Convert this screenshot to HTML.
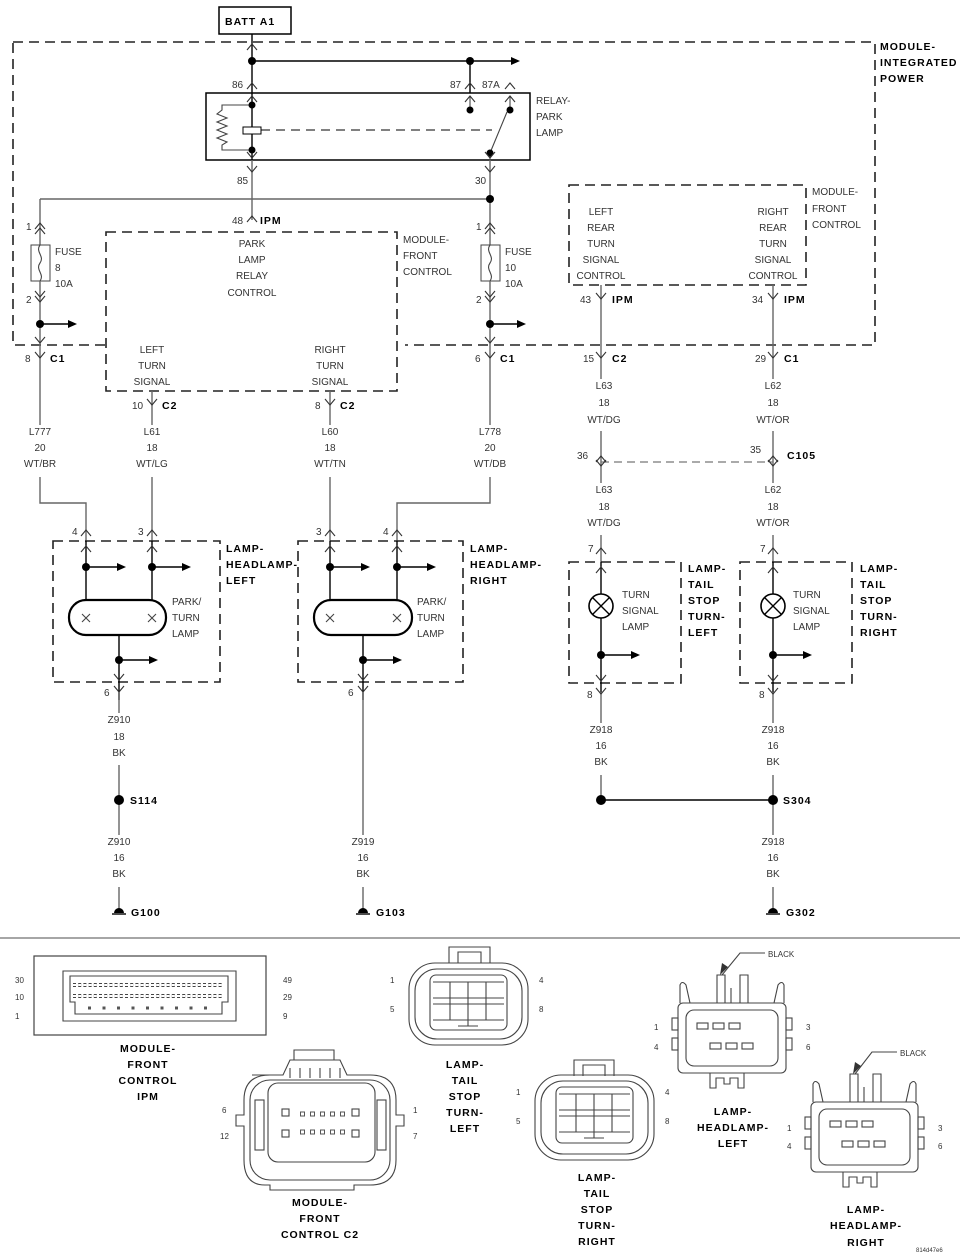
<!DOCTYPE html>
<html><head><meta charset="utf-8"><style>
html,body{margin:0;padding:0;background:#fff}
svg{display:block}
text{font-family:"Liberation Sans Narrow","Liberation Sans",sans-serif;font-size:10px;fill:#333}
.b{font-weight:bold;fill:#000;font-size:10.5px;letter-spacing:1px}
.s{font-size:8px}
.w{stroke:#666;stroke-width:1.4;fill:none}
.k{stroke:#000;stroke-width:1.4;fill:none}
.d{stroke:#222;stroke-width:1.6;fill:none;stroke-dasharray:10,6}
.c{stroke:#444;stroke-width:1.1;fill:none}
</style></head><body>
<svg width="960" height="1257" viewBox="0 0 960 1257">
<defs>
<path id="up" d="M-5,6 L0,0 L5,6" stroke="#333" stroke-width="1.1" fill="none"/>
<path id="dn" d="M-5,-6 L0,0 L5,-6" stroke="#333" stroke-width="1.1" fill="none"/>
<path id="ar" d="M0,0 L-9,-4 L-9,4 Z" fill="#000"/>
</defs>

<!-- BATT -->
<rect x="219" y="7" width="72" height="27" fill="#fff" stroke="#000" stroke-width="1.5"/>
<text x="225" y="25" class="b">BATT A1</text>

<!-- IPM dashed -->
<path class="d" d="M13,42 L875,42 L875,345 L405,345 M105,345 L13,345 L13,42"/>
<text x="880" y="50" class="b">MODULE-</text>
<text x="880" y="66" class="b">INTEGRATED</text>
<text x="880" y="82" class="b">POWER</text>

<!-- top feed -->
<path class="k" d="M252,34 L252,93 M252,61 L518,61 M470,61 L470,93"/>
<circle cx="252" cy="61" r="4"/><circle cx="470" cy="61" r="4"/>
<use href="#ar" x="520" y="61"/>
<use href="#up" x="252" y="44"/>
<use href="#up" x="252" y="83"/><use href="#up" x="470" y="83"/><use href="#up" x="510" y="83"/>
<text x="232" y="88">86</text><text x="450" y="88">87</text><text x="482" y="88">87A</text>

<!-- relay -->
<rect x="206" y="93" width="324" height="67" fill="none" stroke="#000" stroke-width="1.5"/>
<text x="536" y="104">RELAY-</text><text x="536" y="120">PARK</text><text x="536" y="136">LAMP</text>
<path class="k" d="M252,93 L252,160"/>
<path class="c" d="M252,105 L222,105 L222,110 L217,114 L227,118 L217,122 L227,126 L217,130 L227,134 L217,138 L227,142 L222,145 L222,150 L252,150"/>
<rect x="243" y="127" width="18" height="7" fill="#fff" stroke="#000" stroke-width="1"/>
<path d="M261,130 L492,130" stroke="#000" stroke-width="1" stroke-dasharray="9,6"/>
<circle cx="252" cy="105" r="3.5"/><circle cx="252" cy="150" r="3.5"/>
<path class="c" d="M470,96 L470,110 M510,96 L510,110 M490,153 L507,112 M490,153 L490,160"/>
<circle cx="470" cy="110" r="3.5"/><circle cx="510" cy="110" r="3.5"/><circle cx="490" cy="153" r="3.5"/>
<use href="#up" x="252" y="96"/><use href="#up" x="470" y="96"/><use href="#up" x="510" y="96"/>
<use href="#dn" x="252" y="158"/><use href="#dn" x="490" y="158"/>

<!-- 85 / 30 -->
<path class="w" d="M252,160 L252,220 M490,160 L490,245 M40,199 L490,199 M40,199 L40,245"/>
<circle cx="490" cy="199" r="4"/>
<use href="#dn" x="252" y="172"/><use href="#dn" x="490" y="172"/>
<text x="237" y="184">85</text><text x="475" y="184">30</text>
<use href="#up" x="252" y="216"/>
<text x="232" y="224">48</text><text x="260" y="224" class="b">IPM</text>

<!-- fuses -->
<g>
<use href="#up" x="40" y="223"/><use href="#up" x="40" y="228"/>
<text x="26" y="230">1</text>
<rect x="31" y="245" width="19" height="36" fill="#fff" stroke="#444"/>
<path class="c" d="M40,245 C35,252 45,256 40,263 C35,270 45,274 40,281"/>
<text x="55" y="255">FUSE</text><text x="55" y="271">8</text><text x="55" y="287">10A</text>
<path class="w" d="M40,281 L40,345"/>
<use href="#dn" x="40" y="297"/><use href="#dn" x="40" y="302"/>
<text x="26" y="303">2</text>
<circle cx="40" cy="324" r="4"/><path class="k" d="M40,324 L70,324"/><use href="#ar" x="77" y="324"/>
<use href="#dn" x="40" y="343"/>
</g>
<g>
<use href="#up" x="490" y="223"/><use href="#up" x="490" y="228"/>
<text x="476" y="230">1</text>
<rect x="481" y="245" width="19" height="36" fill="#fff" stroke="#444"/>
<path class="c" d="M490,245 C485,252 495,256 490,263 C485,270 495,274 490,281"/>
<text x="505" y="255">FUSE</text><text x="505" y="271">10</text><text x="505" y="287">10A</text>
<path class="w" d="M490,281 L490,345"/>
<use href="#dn" x="490" y="297"/><use href="#dn" x="490" y="302"/>
<text x="476" y="303">2</text>
<circle cx="490" cy="324" r="4"/><path class="k" d="M490,324 L519,324"/><use href="#ar" x="526" y="324"/>
<use href="#dn" x="490" y="343"/>
</g>

<!-- MFC box left -->
<path class="d" d="M106,232 L397,232 L397,391 L106,391 Z"/>
<text x="252" y="247" text-anchor="middle">PARK</text>
<text x="252" y="263" text-anchor="middle">LAMP</text>
<text x="252" y="279" text-anchor="middle">RELAY</text>
<text x="252" y="296" text-anchor="middle">CONTROL</text>
<text x="403" y="243">MODULE-</text><text x="403" y="259">FRONT</text><text x="403" y="275">CONTROL</text>
<text x="152" y="353" text-anchor="middle">LEFT</text><text x="152" y="369" text-anchor="middle">TURN</text><text x="152" y="385" text-anchor="middle">SIGNAL</text>
<text x="330" y="353" text-anchor="middle">RIGHT</text><text x="330" y="369" text-anchor="middle">TURN</text><text x="330" y="385" text-anchor="middle">SIGNAL</text>

<!-- MFC box right -->
<path class="d" d="M569,185 L806,185 L806,285 L569,285 Z"/>
<text x="812" y="195">MODULE-</text><text x="812" y="212">FRONT</text><text x="812" y="228">CONTROL</text>
<g text-anchor="middle">
<text x="601" y="215">LEFT</text><text x="601" y="231">REAR</text><text x="601" y="247">TURN</text><text x="601" y="263">SIGNAL</text><text x="601" y="279">CONTROL</text>
<text x="773" y="215">RIGHT</text><text x="773" y="231">REAR</text><text x="773" y="247">TURN</text><text x="773" y="263">SIGNAL</text><text x="773" y="279">CONTROL</text>
</g>

<!-- wires left -->
<path class="w" d="M40,345 L40,503 L86,503 L86,541 M152,391 L152,541 M330,391 L330,541 M490,345 L490,503 L397,503 L397,541"/>
<use href="#dn" x="40" y="358"/><text x="25" y="362">8</text><text x="50" y="362" class="b">C1</text>
<use href="#dn" x="490" y="358"/><text x="475" y="362">6</text><text x="500" y="362" class="b">C1</text>
<use href="#dn" x="152" y="405"/><text x="132" y="409">10</text><text x="162" y="409" class="b">C2</text>
<use href="#dn" x="330" y="405"/><text x="315" y="409">8</text><text x="340" y="409" class="b">C2</text>
<g text-anchor="middle">
<rect x="24" y="425" width="32" height="52" fill="#fff"/>
<text x="40" y="435">L777</text><text x="40" y="451">20</text><text x="40" y="467">WT/BR</text>
<rect x="136" y="425" width="32" height="52" fill="#fff"/>
<text x="152" y="435">L61</text><text x="152" y="451">18</text><text x="152" y="467">WT/LG</text>
<rect x="314" y="425" width="32" height="52" fill="#fff"/>
<text x="330" y="435">L60</text><text x="330" y="451">18</text><text x="330" y="467">WT/TN</text>
<rect x="474" y="425" width="32" height="52" fill="#fff"/>
<text x="490" y="435">L778</text><text x="490" y="451">20</text><text x="490" y="467">WT/DB</text>
</g>
<use href="#up" x="86" y="530"/><text x="72" y="535">4</text>
<use href="#up" x="152" y="530"/><text x="138" y="535">3</text>
<use href="#up" x="330" y="530"/><text x="316" y="535">3</text>
<use href="#up" x="397" y="530"/><text x="383" y="535">4</text>

<!-- headlamp left -->
<path class="d" d="M53,541 L220,541 L220,682 L53,682 Z"/>
<text x="226" y="552" class="b">LAMP-</text><text x="226" y="568" class="b">HEADLAMP-</text><text x="226" y="584" class="b">LEFT</text>
<path class="k" d="M86,541 L86,600 M152,541 L152,600 M119,635 L119,700"/>
<use href="#up" x="86" y="546"/><use href="#up" x="152" y="546"/>
<circle cx="86" cy="567" r="4"/><path class="k" d="M86,567 L118,567"/><use href="#ar" x="126" y="567"/>
<circle cx="152" cy="567" r="4"/><path class="k" d="M152,567 L183,567"/><use href="#ar" x="191" y="567"/>
<rect x="69" y="600" width="97" height="35" rx="17" fill="#fff" stroke="#000" stroke-width="2.2"/>
<path class="c" d="M82,614 L90,622 M90,614 L82,622 M148,614 L156,622 M156,614 L148,622"/>
<text x="172" y="605">PARK/</text><text x="172" y="621">TURN</text><text x="172" y="637">LAMP</text>
<circle cx="119" cy="660" r="4"/><path class="k" d="M119,660 L150,660"/><use href="#ar" x="158" y="660"/>
<use href="#dn" x="119" y="680"/>
<use href="#dn" x="119" y="692"/><text x="104" y="696">6</text>

<!-- headlamp right -->
<path class="d" d="M298,541 L463,541 L463,682 L298,682 Z"/>
<text x="470" y="552" class="b">LAMP-</text><text x="470" y="568" class="b">HEADLAMP-</text><text x="470" y="584" class="b">RIGHT</text>
<path class="k" d="M330,541 L330,600 M397,541 L397,600 M363,635 L363,700"/>
<use href="#up" x="330" y="546"/><use href="#up" x="397" y="546"/>
<circle cx="330" cy="567" r="4"/><path class="k" d="M330,567 L362,567"/><use href="#ar" x="370" y="567"/>
<circle cx="397" cy="567" r="4"/><path class="k" d="M397,567 L428,567"/><use href="#ar" x="436" y="567"/>
<rect x="314" y="600" width="98" height="35" rx="17" fill="#fff" stroke="#000" stroke-width="2.2"/>
<path class="c" d="M326,614 L334,622 M334,614 L326,622 M393,614 L401,622 M401,614 L393,622"/>
<text x="417" y="605">PARK/</text><text x="417" y="621">TURN</text><text x="417" y="637">LAMP</text>
<circle cx="363" cy="660" r="4"/><path class="k" d="M363,660 L394,660"/><use href="#ar" x="402" y="660"/>
<use href="#dn" x="363" y="680"/>
<use href="#dn" x="363" y="692"/><text x="348" y="696">6</text>

<!-- left grounds -->
<path class="w" d="M119,692 L119,912 M363,692 L363,912"/>
<g text-anchor="middle">
<rect x="103" y="713" width="32" height="52" fill="#fff"/>
<text x="119" y="723">Z910</text><text x="119" y="740">18</text><text x="119" y="756">BK</text>
<rect x="103" y="835" width="32" height="52" fill="#fff"/>
<text x="119" y="845">Z910</text><text x="119" y="861">16</text><text x="119" y="877">BK</text>
<rect x="347" y="835" width="32" height="52" fill="#fff"/>
<text x="363" y="845">Z919</text><text x="363" y="861">16</text><text x="363" y="877">BK</text>
</g>
<circle cx="119" cy="800" r="5"/><text x="130" y="804" class="b">S114</text>
<path d="M114,913 A5,5 0 0 1 124,913 Z" fill="#000"/><path class="k" d="M112,914 L126,914"/><text x="131" y="916" class="b">G100</text>
<path d="M358,913 A5,5 0 0 1 368,913 Z" fill="#000"/><path class="k" d="M356,914 L370,914"/><text x="376" y="916" class="b">G103</text>

<!-- right side wires -->
<path class="w" d="M601,285 L601,562 M773,285 L773,562"/>
<use href="#dn" x="601" y="299"/><text x="580" y="303">43</text><text x="612" y="303" class="b">IPM</text>
<use href="#dn" x="773" y="299"/><text x="752" y="303">34</text><text x="784" y="303" class="b">IPM</text>
<use href="#dn" x="601" y="358"/><text x="583" y="362">15</text><text x="612" y="362" class="b">C2</text>
<use href="#dn" x="773" y="358"/><text x="755" y="362">29</text><text x="784" y="362" class="b">C1</text>
<g text-anchor="middle">
<rect x="585" y="379" width="32" height="52" fill="#fff"/>
<text x="604" y="389">L63</text><text x="604" y="406">18</text><text x="604" y="423">WT/DG</text>
<rect x="757" y="379" width="32" height="52" fill="#fff"/>
<text x="773" y="389">L62</text><text x="773" y="406">18</text><text x="773" y="423">WT/OR</text>
<rect x="585" y="483" width="32" height="52" fill="#fff"/>
<text x="604" y="493">L63</text><text x="604" y="510">18</text><text x="604" y="526">WT/DG</text>
<rect x="757" y="483" width="32" height="52" fill="#fff"/>
<text x="773" y="493">L62</text><text x="773" y="510">18</text><text x="773" y="526">WT/OR</text>
</g>
<path d="M601,462 L773,462" stroke="#777" stroke-width="1.2" stroke-dasharray="8,5"/>
<use href="#up" x="601" y="456"/><use href="#dn" x="601" y="466"/>
<use href="#up" x="773" y="456"/><use href="#dn" x="773" y="466"/>
<text x="577" y="459">36</text><text x="750" y="453">35</text><text x="787" y="459" class="b">C105</text>
<use href="#up" x="601" y="548"/><text x="588" y="552">7</text>
<use href="#up" x="773" y="548"/><text x="760" y="552">7</text>

<!-- tail lamps -->
<g>
<path class="d" d="M569,562 L681,562 L681,683 L569,683 Z"/>
<path class="k" d="M601,562 L601,594 M601,618 L601,692"/>
<use href="#up" x="601" y="567"/>
<circle cx="601" cy="606" r="12" fill="#fff" stroke="#000" stroke-width="1.6"/>
<path class="k" d="M593,598 L609,614 M609,598 L593,614"/>
<text x="622" y="598">TURN</text><text x="622" y="614">SIGNAL</text><text x="622" y="630">LAMP</text>
<circle cx="601" cy="655" r="4"/><path class="k" d="M601,655 L632,655"/><use href="#ar" x="640" y="655"/>
<use href="#dn" x="601" y="681"/>
<text x="688" y="572" class="b">LAMP-</text><text x="688" y="588" class="b">TAIL</text><text x="688" y="604" class="b">STOP</text><text x="688" y="620" class="b">TURN-</text><text x="688" y="636" class="b">LEFT</text>
</g>
<g>
<path class="d" d="M740,562 L852,562 L852,683 L740,683 Z"/>
<path class="k" d="M773,562 L773,594 M773,618 L773,692"/>
<use href="#up" x="773" y="567"/>
<circle cx="773" cy="606" r="12" fill="#fff" stroke="#000" stroke-width="1.6"/>
<path class="k" d="M765,598 L781,614 M781,598 L765,614"/>
<text x="793" y="598">TURN</text><text x="793" y="614">SIGNAL</text><text x="793" y="630">LAMP</text>
<circle cx="773" cy="655" r="4"/><path class="k" d="M773,655 L804,655"/><use href="#ar" x="812" y="655"/>
<use href="#dn" x="773" y="681"/>
<text x="860" y="572" class="b">LAMP-</text><text x="860" y="588" class="b">TAIL</text><text x="860" y="604" class="b">STOP</text><text x="860" y="620" class="b">TURN-</text><text x="860" y="636" class="b">RIGHT</text>
</g>
<path class="w" d="M601,692 L601,800 M773,692 L773,912"/>
<path class="k" d="M601,800 L773,800"/>
<use href="#dn" x="601" y="694"/><text x="587" y="698">8</text>
<use href="#dn" x="773" y="694"/><text x="759" y="698">8</text>
<g text-anchor="middle">
<rect x="585" y="723" width="32" height="52" fill="#fff"/>
<text x="601" y="733">Z918</text><text x="601" y="749">16</text><text x="601" y="765">BK</text>
<rect x="757" y="723" width="32" height="52" fill="#fff"/>
<text x="773" y="733">Z918</text><text x="773" y="749">16</text><text x="773" y="765">BK</text>
<rect x="757" y="835" width="32" height="52" fill="#fff"/>
<text x="773" y="845">Z918</text><text x="773" y="861">16</text><text x="773" y="877">BK</text>
</g>
<circle cx="601" cy="800" r="5"/><circle cx="773" cy="800" r="5"/><text x="783" y="804" class="b">S304</text>
<path d="M768,913 A5,5 0 0 1 778,913 Z" fill="#000"/><path class="k" d="M766,914 L780,914"/><text x="786" y="916" class="b">G302</text>

<!-- separator -->
<path d="M0,938 L960,938" stroke="#888" stroke-width="1.5"/>

<!-- MFC IPM connector -->
<rect x="34" y="956" width="232" height="79" fill="none" stroke="#444" stroke-width="1.2"/>
<path class="c" d="M63,971 L236,971 L236,1021 L63,1021 Z M70,976 L228,976 L228,1002 L222,1002 L222,1014 L75,1014 L75,1002 L70,1002 Z"/>
<g fill="none" stroke="#444" stroke-width="0.8">
<path d="M73,985 h150" stroke-dasharray="3,2.2" stroke-width="4"/>
<path d="M73,996 h150" stroke-dasharray="3,2.2" stroke-width="4"/>
</g>
<path d="M73,985 h150 M73,996 h150" stroke="#fff" stroke-width="2" stroke-dasharray="3,2.2"/>
<path d="M88,1008 h125" stroke="#555" stroke-width="3" stroke-dasharray="3,11.5"/>
<text x="15" y="983" class="s">30</text><text x="15" y="1000" class="s">10</text><text x="15" y="1019" class="s">1</text>
<text x="283" y="983" class="s">49</text><text x="283" y="1000" class="s">29</text><text x="283" y="1019" class="s">9</text>
<g text-anchor="middle" class="b">
<text x="148" y="1052" class="b">MODULE-</text><text x="148" y="1068" class="b">FRONT</text><text x="148" y="1084" class="b">CONTROL</text><text x="148" y="1100" class="b">IPM</text>
</g>

<!-- tail stop left connector -->
<g class="c">
<path d="M449,963 L449,947 L490,947 L490,963"/><path d="M458,963 L458,952 L481,952 L481,963"/>
<rect x="409" y="963" width="119" height="82" rx="26"/>
<rect x="415" y="969" width="107" height="70" rx="22"/>
<rect x="430" y="975" width="77" height="55" rx="6"/>
<path d="M433,982 h71 M433,998 h71 M433,1004 h71 M433,1020 h71 M450,982 v38 M468,982 v38 M486,982 v38 M468,1020 v6 M458,1026 h20"/>
</g>
<text x="390" y="983" class="s">1</text><text x="390" y="1012" class="s">5</text>
<text x="539" y="983" class="s">4</text><text x="539" y="1012" class="s">8</text>
<g text-anchor="middle">
<text x="465" y="1068" class="b">LAMP-</text><text x="465" y="1084" class="b">TAIL</text><text x="465" y="1100" class="b">STOP</text><text x="465" y="1116" class="b">TURN-</text><text x="465" y="1132" class="b">LEFT</text>
</g>

<!-- tail stop right connector -->
<g class="c">
<path d="M574,1076 L574,1060 L614,1060 L614,1076"/><path d="M583,1076 L583,1065 L605,1065 L605,1076"/>
<rect x="535" y="1075" width="119" height="85" rx="26"/>
<rect x="541" y="1081" width="107" height="73" rx="22"/>
<rect x="556" y="1087" width="77" height="56" rx="6"/>
<path d="M559,1094 h71 M559,1110 h71 M559,1116 h71 M559,1132 h71 M576,1094 v38 M594,1094 v38 M612,1094 v38 M594,1132 v6 M584,1138 h20"/>
</g>
<text x="516" y="1095" class="s">1</text><text x="516" y="1124" class="s">5</text>
<text x="665" y="1095" class="s">4</text><text x="665" y="1124" class="s">8</text>
<g text-anchor="middle">
<text x="597" y="1181" class="b">LAMP-</text><text x="597" y="1197" class="b">TAIL</text><text x="597" y="1213" class="b">STOP</text><text x="597" y="1229" class="b">TURN-</text><text x="597" y="1245" class="b">RIGHT</text>
</g>

<!-- MFC C2 connector -->
<g class="c">
<path d="M294,1060 L294,1050 L334,1050 L334,1060"/>
<path d="M252,1075 L283,1075 L290,1060 L340,1060 L347,1075 L370,1075 Q396,1075 396,1100 L396,1115 L404,1115 L404,1126 L396,1126 L396,1160 Q396,1185 370,1185 L354,1185 L354,1190 L270,1190 L270,1185 L265,1185 Q244,1185 244,1160 L244,1126 L236,1126 L236,1115 L244,1115 L244,1100 Q244,1075 270,1075"/>
<rect x="250" y="1080" width="140" height="100" rx="20"/>
<rect x="268" y="1083" width="107" height="79" rx="10"/>
<path d="M290,1068 v10 M300,1068 v10 M310,1068 v10 M320,1068 v10 M330,1068 v10 M340,1068 v10"/>
<rect x="255" y="1100" width="9" height="50"/><rect x="377" y="1100" width="9" height="50"/>
<rect x="282" y="1109" width="7" height="7"/><rect x="352" y="1109" width="7" height="7"/>
<rect x="282" y="1130" width="7" height="7"/><rect x="352" y="1130" width="7" height="7"/>
</g>
<path d="M300,1114 h48 M300,1132 h48" stroke="#555" stroke-width="5" stroke-dasharray="5,5"/>
<path d="M300,1114 h48 M300,1132 h48" stroke="#fff" stroke-width="3" stroke-dasharray="3,7" stroke-dashoffset="-1"/>
<text x="222" y="1113" class="s">6</text><text x="220" y="1139" class="s">12</text>
<text x="413" y="1113" class="s">1</text><text x="413" y="1139" class="s">7</text>
<g text-anchor="middle">
<text x="320" y="1206" class="b">MODULE-</text><text x="320" y="1222" class="b">FRONT</text><text x="320" y="1238" class="b">CONTROL C2</text>
</g>

<!-- headlamp left connector -->
<g class="c">
<path d="M680,1003 L680,985 Q682,980 686,985 L690,1003 M774,1003 L778,985 Q782,980 784,985 L784,1003"/>
<path d="M717,1003 L717,975 L725,975 L725,1003 M740,1003 L740,975 L748,975 L748,1003 M731,1003 L731,988"/>
<rect x="678" y="1003" width="108" height="70" rx="5"/>
<rect x="686" y="1010" width="92" height="56" rx="8"/>
<rect x="697" y="1023" width="11" height="6"/><rect x="713" y="1023" width="11" height="6"/><rect x="729" y="1023" width="11" height="6"/>
<rect x="710" y="1043" width="11" height="6"/><rect x="726" y="1043" width="11" height="6"/><rect x="742" y="1043" width="11" height="6"/>
<rect x="672" y="1018" width="6" height="12"/><rect x="672" y="1038" width="6" height="12"/><rect x="786" y="1018" width="6" height="12"/><rect x="786" y="1038" width="6" height="12"/>
<path d="M710,1073 v15 h6 v-10 h8 v6 h6 v-6 h8 v10 h6 v-15"/>
<path d="M722,975 L740,953 L765,953"/>
</g>
<path d="M720,975 L722,963 L728,967 Z" fill="#333"/>
<text x="768" y="957" class="s">BLACK</text>
<text x="654" y="1030" class="s">1</text><text x="654" y="1050" class="s">4</text>
<text x="806" y="1030" class="s">3</text><text x="806" y="1050" class="s">6</text>
<g text-anchor="middle">
<text x="733" y="1115" class="b">LAMP-</text><text x="733" y="1131" class="b">HEADLAMP-</text><text x="733" y="1147" class="b">LEFT</text>
</g>

<!-- headlamp right connector -->
<g class="c">
<path d="M813,1102 L813,1084 Q815,1079 819,1084 L823,1102 M906,1102 L910,1084 Q914,1079 916,1084 L916,1102"/>
<path d="M850,1102 L850,1074 L858,1074 L858,1102 M873,1102 L873,1074 L881,1074 L881,1102 M864,1102 L864,1087"/>
<rect x="811" y="1102" width="107" height="70" rx="5"/>
<rect x="819" y="1109" width="91" height="56" rx="8"/>
<rect x="830" y="1121" width="11" height="6"/><rect x="846" y="1121" width="11" height="6"/><rect x="862" y="1121" width="11" height="6"/>
<rect x="842" y="1141" width="11" height="6"/><rect x="858" y="1141" width="11" height="6"/><rect x="874" y="1141" width="11" height="6"/>
<rect x="805" y="1117" width="6" height="12"/><rect x="805" y="1137" width="6" height="12"/><rect x="918" y="1117" width="6" height="12"/><rect x="918" y="1137" width="6" height="12"/>
<path d="M843,1172 v15 h6 v-10 h8 v6 h6 v-6 h8 v10 h6 v-15"/>
<path d="M855,1074 L872,1052 L897,1052"/>
</g>
<path d="M853,1074 L855,1062 L861,1066 Z" fill="#333"/>
<text x="900" y="1056" class="s">BLACK</text>
<text x="787" y="1131" class="s">1</text><text x="787" y="1149" class="s">4</text>
<text x="938" y="1131" class="s">3</text><text x="938" y="1149" class="s">6</text>
<g text-anchor="middle">
<text x="866" y="1213" class="b">LAMP-</text><text x="866" y="1229" class="b">HEADLAMP-</text><text x="866" y="1246" class="b">RIGHT</text>
</g>
<text x="916" y="1252" style="font-size:6px">814d47e6</text>
</svg>
</body></html>
